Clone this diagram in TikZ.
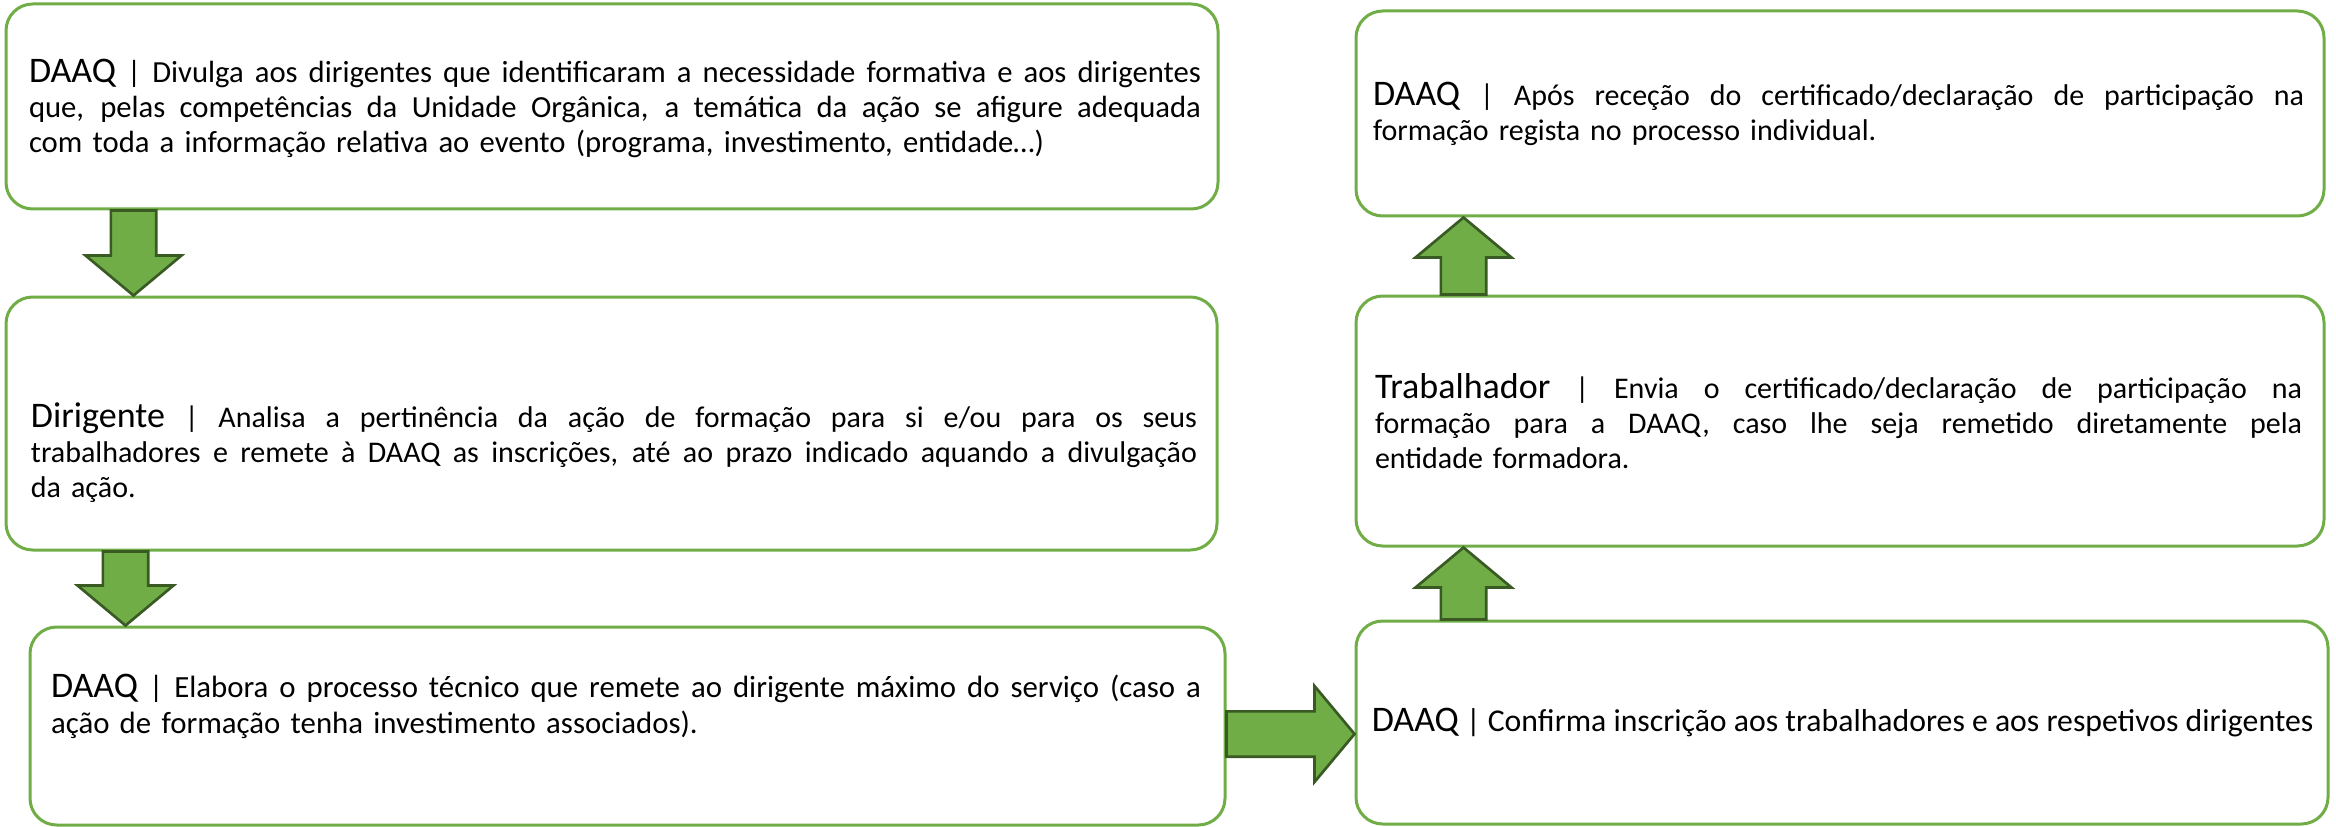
\documentclass[tikz,border=0pt]{standalone}
\usepackage{fontspec}
\setmainfont{Carlito}
\usepackage{tikz}
\usetikzlibrary{calc}

\definecolor{boxgreen}{HTML}{70AD47}
\definecolor{arrowedge}{HTML}{3A5A24}
\setlength{\parindent}{0pt}

\newcommand{\who}[1]{{\fontsize{27}{26.25}\selectfont #1}}
\newcommand{\jline}[1]{{\spaceskip=0.23em plus 1fil\makebox[\hsize][s]{#1}}}

\begin{document}
\begin{tikzpicture}[x = 0.75pt, y = -0.75pt]
\tikzstyle{every node} = [font = \fontsize{22.5}{26.25}\selectfont]
\tikzstyle{box} = [rectangle, draw = boxgreen, line width = 2.25pt, rounded corners = 20pt, inner sep = 0pt]
\tikzstyle{txt} = [inner sep = 0pt, align = left]
\tikzstyle{bigarrow} = [draw = arrowedge, fill = boxgreen, line width = 2pt, line join = miter,
	to path = {let \p1 = (\tikztostart), \p2 = (\tikztotarget),
		\n1 = {veclen(\x2-\x1,\y2-\y1)}, \n2 = {(\x2-\x1)/\n1}, \n3 = {(\y2-\y1)/\n1} in
		({\x1-(\n3)*17pt}, {\y1+(\n2)*17pt})
		-- ({\x2-(\n2)*30pt-(\n3)*17pt}, {\y2-(\n3)*30pt+(\n2)*17pt})
		-- ({\x2-(\n2)*30pt-(\n3)*36pt}, {\y2-(\n3)*30pt+(\n2)*36pt})
		-- (\p2)
		-- ({\x2-(\n2)*30pt+(\n3)*36pt}, {\y2-(\n3)*30pt-(\n2)*36pt})
		-- ({\x2-(\n2)*30pt+(\n3)*17pt}, {\y2-(\n3)*30pt-(\n2)*17pt})
		-- ({\x1+(\n3)*17pt}, {\y1-(\n2)*17pt})
		-- cycle}]

\useasboundingbox (0,0) rectangle (2336,827);

% left column
\node [box, minimum width = 909pt, minimum height = 153.75pt] (daaq1) at (612,106.5) {};
\node [txt, text width = 879pt, font = \fontsize{23}{26.25}\selectfont] (txt1) at ($(daaq1)+(3,1.5)$) {%
	\jline{\who{DAAQ} | Divulga aos dirigentes que identificaram a necessidade formativa e aos dirigentes}\\
	\jline{que, pelas competências da Unidade Orgânica, a temática da ação se afigure adequada}\\
	com toda a informação relativa ao evento (programa, investimento, entidade…)};

\node [box, minimum width = 908.25pt, minimum height = 189.75pt] (dirigente) at (611.5,423.5) {};
\node [txt, text width = 874.5pt] (txt2) at ($(dirigente)+(2.5,29)$) {%
	\jline{\who{Dirigente} | Analisa a pertinência da ação de formação para si e/ou para os seus}\\
	\jline{trabalhadores e remete à DAAQ as inscrições, até ao prazo indicado aquando a divulgação}\\
	da ação.};

\node [box, minimum width = 896.25pt, minimum height = 148.5pt] (daaq2) at (627.5,726) {};
\node [txt, text width = 862.5pt, font = \fontsize{23.1}{27}\selectfont] (txt3) at ($(daaq2)+(-1.5,-20)$) {%
	\jline{\who{DAAQ} | Elabora o processo técnico que remete ao dirigente máximo do serviço (caso a}\\
	ação de formação tenha investimento associados).};

% right column
\node [box, minimum width = 729pt, minimum height = 152.25pt] (daaq3) at (1842,722.5) {};
\node [txt, anchor = west, font = \fontsize{23.8}{26.25}\selectfont] (txt4) at ($(daaq3.west)+(17,0.5)$) {%
	\who{DAAQ} | Confirma inscrição aos trabalhadores e aos respetivos dirigentes};

\node [box, minimum width = 726pt, minimum height = 187.5pt] (trabalhador) at (1840,421) {};
\node [txt, text width = 695.25pt] (txt5) at ($(trabalhador)+(-1.5,0.5)$) {%
	\jline{\who{Trabalhador} | Envia o certificado/declaração de participação na}\\
	\jline{formação para a DAAQ, caso lhe seja remetido diretamente pela}\\
	entidade formadora.};

\node [box, minimum width = 726pt, minimum height = 153.75pt] (daaq4) at (1840,113.5) {};
\node [txt, text width = 698.25pt] (txt6) at ($(daaq4)+(-1.5,0)$) {%
	\jline{\who{DAAQ} | Após receção do certificado/declaração de participação na}\\
	formação regista no processo individual.};

% block arrows
\draw [bigarrow] ($(daaq1.south west)+(129,0)$) to ($(dirigente.north west)+(129,0)$);
\draw [bigarrow] ($(dirigente.south west)+(121,0)$) to ($(daaq2.north west)+(97,0)$);
\draw [bigarrow] ($(daaq2.east)+(0,8)$) to ($(daaq3.west)+(0,11.5)$);
\draw [bigarrow] ($(daaq3.north west)+(109,0)$) to ($(trabalhador.south west)+(109,0)$);
\draw [bigarrow] ($(trabalhador.north west)+(109,0)$) to ($(daaq4.south west)+(109,0)$);

\end{tikzpicture}
\end{document}
